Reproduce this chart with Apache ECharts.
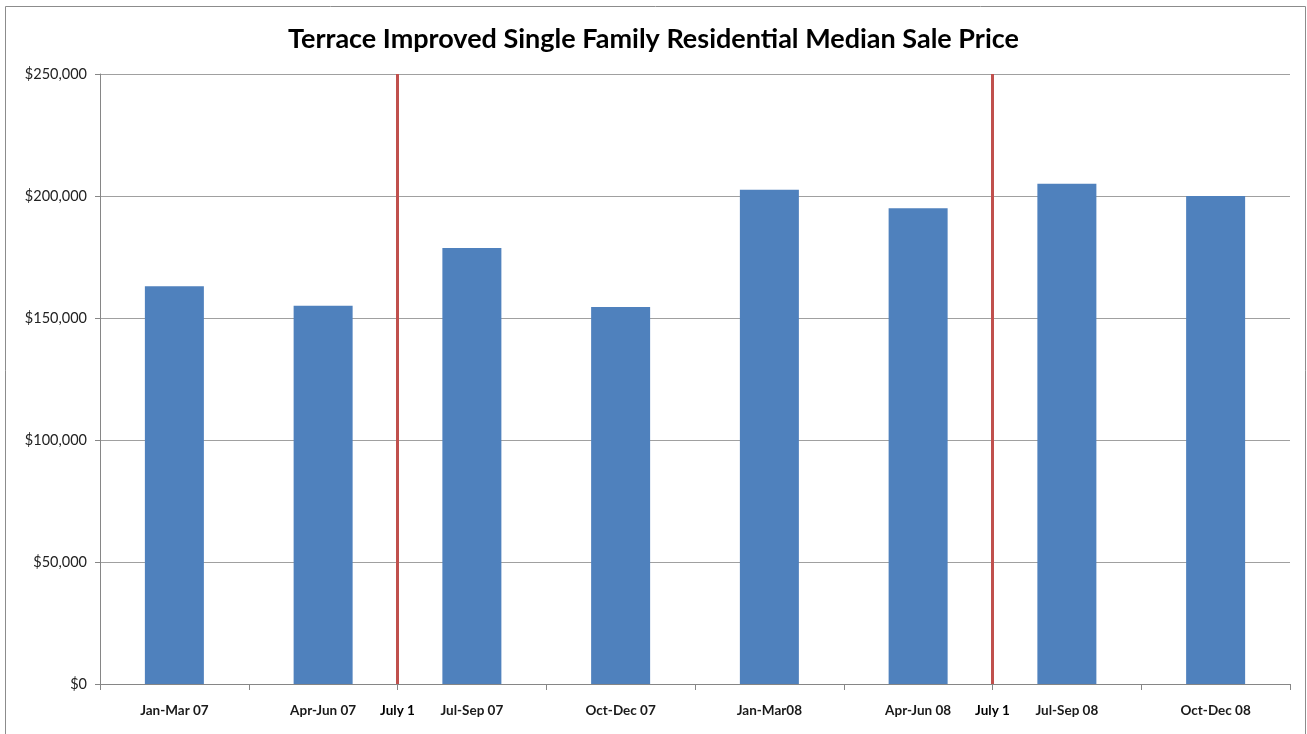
<!DOCTYPE html>
<html>
<head>
<meta charset="utf-8">
<script src="https://cdn.jsdelivr.net/npm/echarts@6/dist/echarts.min.js"></script>
<style>
html,body{margin:0;padding:0;background:#fff;}
#c{width:1307px;height:734px;}
</style>
</head>
<body>
<div id="c"></div>
<script>
var titleText = 'Terrace Improved Single Family Residential Median Sale Price';
var categories = ['Jan-Mar 07','Apr-Jun 07','Jul-Sep 07','Oct-Dec 07','Jan-Mar08','Apr-Jun 08','Jul-Sep 08','Oct-Dec 08'];
var medianPrice = [163000, 155000, 178700, 154500, 202600, 195000, 205000, 200000];
var markerPositions = [2, 6];
var markerLabel = 'July 1';
var yTicks = [0, 50000, 100000, 150000, 200000, 250000];

var chart = echarts.init(document.getElementById('c'));
var fmt = function (v) { return '$' + v.toLocaleString('en-US'); };
chart.setOption({
  animation: false,
  backgroundColor: '#fff',
  graphic: [{
    type: 'rect', shape: {x: 5.5, y: 6.5, width: 1300, height: 740},
    style: {fill: 'none', stroke: '#8c8c8c', lineWidth: 1}, silent: true
  }],
  title: {
    text: titleText, left: 'center', top: 21,
    textStyle: {fontFamily: 'Lato', fontWeight: 'bold', fontSize: 27, color: '#000'}
  },
  grid: {left: 100, right: 17, top: 74, bottom: 50, containLabel: false},
  xAxis: [{
    type: 'category', data: categories,
    axisLine: {lineStyle: {color: '#868686', width: 1}},
    axisTick: {show: true, length: 6, lineStyle: {color: '#868686'}},
    axisLabel: {margin: 20, fontFamily: 'Lato', fontWeight: 'bold', fontSize: 13.5, color: '#1a1a1a'}
  }, {
    type: 'value', min: 0, max: categories.length, interval: 1, position: 'bottom',
    axisLine: {show: false}, axisTick: {show: false}, splitLine: {show: false},
    axisLabel: {
      margin: 20, fontFamily: 'Lato', fontWeight: 'bold', fontSize: 13.5, color: '#000',
      formatter: function (v) { return markerPositions.indexOf(v) >= 0 ? markerLabel : ''; }
    }
  }],
  yAxis: {
    type: 'value', min: yTicks[0], max: yTicks[yTicks.length - 1], interval: yTicks[1] - yTicks[0],
    axisLine: {show: true, lineStyle: {color: '#868686'}},
    axisTick: {show: true, length: 5, lineStyle: {color: '#868686'}},
    splitLine: {lineStyle: {color: '#a0a0a0', width: 1}},
    axisLabel: {margin: 13, fontFamily: 'Lato', fontSize: 14.5, color: '#222', formatter: fmt}
  },
  series: [{
    type: 'bar', data: medianPrice, barWidth: 59, xAxisIndex: 0,
    itemStyle: {color: '#4f81bd'}
  }, {
    type: 'line', xAxisIndex: 1, data: [], silent: true,
    markLine: {
      symbol: 'none', silent: true, label: {show: false},
      lineStyle: {color: '#c0504d', width: 3, type: 'solid'},
      data: markerPositions.map(function (p) { return {xAxis: p}; })
    }
  }]
});
</script>
</body>
</html>
